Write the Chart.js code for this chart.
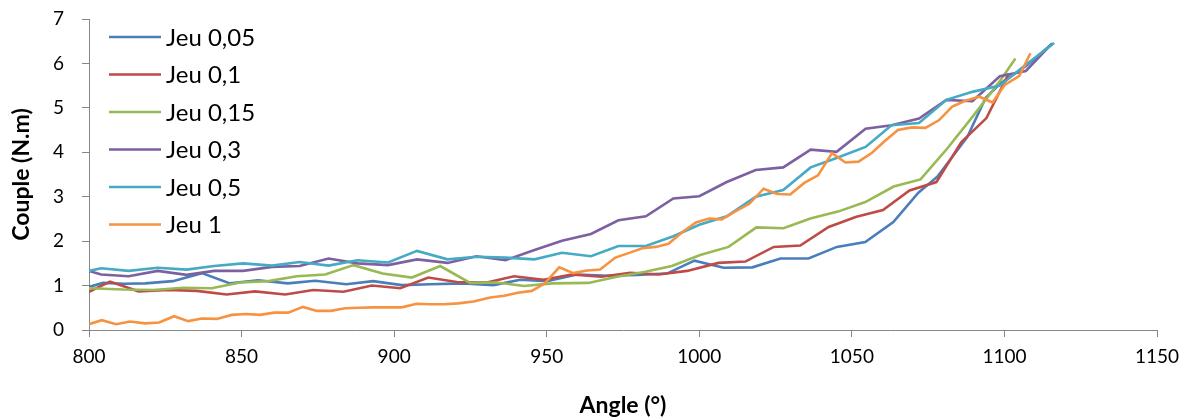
<!DOCTYPE html>
<html>
<head>
<meta charset="utf-8">
<script src="https://cdn.jsdelivr.net/npm/chart.js@4.4.1/dist/chart.umd.min.js"></script>
<style>
html,body{margin:0;padding:0;background:#fff;}
#wrap{width:1191px;height:419px;}
</style>
</head>
<body>
<div id="wrap"><canvas id="c" width="1191" height="419"></canvas></div>
<script>
// ---- data ----
const seriesNames = ["Jeu 0,05", "Jeu 0,1", "Jeu 0,15", "Jeu 0,3", "Jeu 0,5", "Jeu 1"];

const angle005 = [800, 804.6, 811.5, 818.4, 827.5, 837, 846.2, 855.4, 865.2, 874.1, 884.3, 893.1, 902.5, 911.8, 922.7, 932.6, 941.3, 950.1, 959.9, 970.2, 979.7, 989.4, 998.4, 1008, 1017.4, 1026.6, 1035.8, 1045.1, 1054.4, 1063.6, 1071.8, 1078, 1087.8, 1093.8, 1098.7, 1107.2, 1115.7];
const couple005 = [0.97, 1.06, 1.04, 1.05, 1.10, 1.28, 1.05, 1.12, 1.05, 1.11, 1.03, 1.10, 1.01, 1.03, 1.05, 1.01, 1.13, 1.10, 1.25, 1.22, 1.24, 1.27, 1.56, 1.40, 1.41, 1.61, 1.61, 1.87, 1.98, 2.43, 3.09, 3.45, 4.34, 5.22, 5.55, 5.95, 6.45];

const angle01 = [800, 806.9, 816.2, 826, 835.3, 845.1, 854.4, 864.3, 873.5, 883.4, 892.7, 902, 911.2, 920.5, 930.4, 939.3, 948.9, 958.2, 967.9, 977.4, 986.7, 996, 1006.3, 1015.1, 1024.4, 1033.1, 1042.4, 1051.5, 1060.2, 1068.9, 1077.7, 1085.9, 1094.1, 1101.4];
const couple01 = [0.86, 1.09, 0.87, 0.90, 0.88, 0.80, 0.87, 0.80, 0.90, 0.86, 1.00, 0.94, 1.18, 1.08, 1.07, 1.21, 1.13, 1.25, 1.20, 1.29, 1.25, 1.33, 1.51, 1.54, 1.87, 1.90, 2.32, 2.55, 2.70, 3.14, 3.33, 4.23, 4.77, 5.77];

const angle015 = [800, 811.2, 821.1, 830.9, 840.2, 849.5, 858.8, 868.1, 877.4, 886.7, 896.2, 905.8, 915.1, 924.9, 933.6, 942.6, 951.8, 963.7, 973, 982.3, 991, 1000.3, 1009.6, 1018.7, 1027.6, 1036.4, 1045.7, 1054.4, 1063.7, 1072.5, 1081.2, 1089.9, 1098.7, 1103.6];
const couple015 = [0.94, 0.91, 0.90, 0.95, 0.94, 1.07, 1.10, 1.21, 1.25, 1.46, 1.27, 1.18, 1.44, 1.06, 1.07, 0.99, 1.05, 1.06, 1.20, 1.31, 1.44, 1.69, 1.87, 2.31, 2.29, 2.51, 2.67, 2.88, 3.23, 3.39, 4.08, 4.83, 5.62, 6.11];

const angle03 = [800, 804, 813, 822.5, 832, 841, 850.5, 860, 869, 878.5, 888, 898, 907.5, 917.5, 927, 936.5, 946, 955, 964.5, 973.5, 982.5, 991.5, 1000, 1009, 1018.5, 1027.5, 1036.5, 1045, 1054.5, 1063, 1072, 1081, 1089.5, 1098.5, 1107, 1115.5];
const couple03 = [1.33, 1.25, 1.21, 1.33, 1.24, 1.33, 1.33, 1.42, 1.44, 1.61, 1.50, 1.46, 1.59, 1.51, 1.66, 1.57, 1.80, 2.01, 2.16, 2.47, 2.56, 2.96, 3.01, 3.33, 3.60, 3.66, 4.06, 4.01, 4.53, 4.61, 4.76, 5.18, 5.15, 5.71, 5.83, 6.44];

const angle05 = [800, 804, 813, 822.5, 832, 841, 850.5, 860, 869, 878.5, 888, 898, 907.5, 917.5, 927, 936.5, 946, 955, 964.5, 973.5, 982.5, 991.5, 1000, 1009, 1018.5, 1027.5, 1036.5, 1045, 1054.5, 1063, 1072, 1081, 1089.5, 1098.5, 1107, 1116.3];
const couple05 = [1.33, 1.39, 1.33, 1.40, 1.36, 1.44, 1.50, 1.45, 1.53, 1.45, 1.57, 1.52, 1.78, 1.59, 1.65, 1.63, 1.59, 1.74, 1.66, 1.89, 1.89, 2.11, 2.37, 2.56, 3.00, 3.15, 3.66, 3.87, 4.12, 4.61, 4.66, 5.18, 5.36, 5.50, 5.97, 6.46];

const angle1 = [800, 804.2, 808.9, 813.4, 818.4, 823, 827.9, 832.5, 837, 841.9, 846.8, 851.4, 856.1, 860.7, 865.3, 870.1, 874.7, 879.2, 883.9, 888.6, 893.2, 898.1, 902.5, 907.4, 911.8, 916.2, 921, 926, 931.5, 936.1, 940.5, 945.1, 949.2, 954.1, 958.7, 963.2, 967.5, 972.5, 976.8, 981.3, 985.7, 989.9, 994.4, 998.9, 1003.3, 1007.4, 1011.8, 1016.4, 1021.1, 1025.5, 1029.8, 1034.4, 1038.9, 1043.5, 1047.9, 1052.2, 1056.6, 1060.7, 1065.1, 1069.7, 1074.1, 1078.5, 1082.9, 1087.2, 1091.8, 1096.1, 1100, 1104.9, 1108.5];
const couple1 = [0.13, 0.22, 0.13, 0.19, 0.15, 0.17, 0.31, 0.20, 0.26, 0.25, 0.34, 0.36, 0.34, 0.39, 0.39, 0.52, 0.43, 0.43, 0.49, 0.50, 0.51, 0.51, 0.51, 0.59, 0.58, 0.58, 0.60, 0.64, 0.73, 0.77, 0.84, 0.88, 1.04, 1.41, 1.28, 1.34, 1.36, 1.63, 1.73, 1.84, 1.87, 1.94, 2.20, 2.42, 2.51, 2.49, 2.67, 2.84, 3.18, 3.06, 3.05, 3.31, 3.48, 3.98, 3.77, 3.79, 3.99, 4.25, 4.50, 4.56, 4.55, 4.72, 5.03, 5.16, 5.25, 5.12, 5.51, 5.72, 6.23];

const xTicks = [800, 850, 900, 950, 1000, 1050, 1100, 1150];
const yTicks = [0, 1, 2, 3, 4, 5, 6, 7];

// ---- styling ----
const colors = ["#4A7EBB", "#BE4B48", "#98B954", "#7D60A0", "#46AAC5", "#F69240"];
const angles = [angle005, angle01, angle015, angle03, angle05, angle1];
const couples = [couple005, couple01, couple015, couple03, couple05, couple1];
const axisGrey = "#868686";

const datasets = seriesNames.map((name, s) => ({
  label: name,
  data: angles[s].map((a, i) => ({ x: a, y: couples[s][i] })),
  borderColor: colors[s],
  backgroundColor: colors[s],
  borderWidth: 2.6,
  showLine: true,
  pointRadius: 0,
  pointHoverRadius: 0,
  tension: 0,
  fill: false,
  order: seriesNames.length - s
}));

const insideLegend = {
  id: "insideLegend",
  afterDraw(chart) {
    const ctx = chart.ctx;
    const area = chart.chartArea;
    ctx.save();
    ctx.font = "24px Lato";
    ctx.textBaseline = "middle";
    ctx.textAlign = "left";
    chart.data.datasets.forEach((ds, i) => {
      const y = area.top + 18 + i * 37.5;
      ctx.strokeStyle = ds.borderColor;
      ctx.lineWidth = 2.6;
      ctx.beginPath();
      ctx.moveTo(area.left + 20, y);
      ctx.lineTo(area.left + 72, y);
      ctx.stroke();
      ctx.fillStyle = "#000";
      ctx.fillText(ds.label, area.left + 77, y + 1);
    });
    ctx.restore();
  }
};

new Chart(document.getElementById("c"), {
  type: "scatter",
  data: { datasets },
  plugins: [insideLegend],
  options: {
    responsive: false,
    animation: false,
    events: [],
    layout: { padding: { top: 19, right: 34, bottom: 0, left: 0 } },
    plugins: { legend: { display: false }, tooltip: { enabled: false } },
    scales: {
      x: {
        type: "linear",
        min: 800, max: 1150,
        afterBuildTicks: (s) => { s.ticks = xTicks.map(v => ({ value: v })); },
        afterFit: (s) => { s.height = 89; s.paddingLeft = 0; s.paddingRight = 0; },
        ticks: { color: "#000", font: { family: "Lato", size: 19 }, padding: 8, maxRotation: 0, callback: (v) => String(v) },
        grid: { drawOnChartArea: false, drawTicks: true, tickLength: 7, color: axisGrey, lineWidth: 1 },
        border: { color: axisGrey, width: 1 },
        title: { display: true, text: "Angle (°)", color: "#000", font: { family: "Lato", size: 23, weight: "bold" }, padding: { top: 0, bottom: 0 } }
      },
      y: {
        min: 0, max: 7,
        afterBuildTicks: (s) => { s.ticks = yTicks.map(v => ({ value: v })); },
        afterFit: (s) => { s.width = 89; s.paddingTop = 0; s.paddingBottom = 0; },
        ticks: { color: "#000", font: { family: "Lato", size: 19 }, padding: 18, callback: (v) => String(v) },
        grid: { drawOnChartArea: false, drawTicks: true, tickLength: 7, color: axisGrey, lineWidth: 1 },
        border: { color: axisGrey, width: 1 },
        title: { display: true, text: "Couple (N.m)", color: "#000", font: { family: "Lato", size: 23, weight: "bold" }, padding: { top: 8, bottom: 0 } }
      }
    }
  }
});
</script>
</body>
</html>
